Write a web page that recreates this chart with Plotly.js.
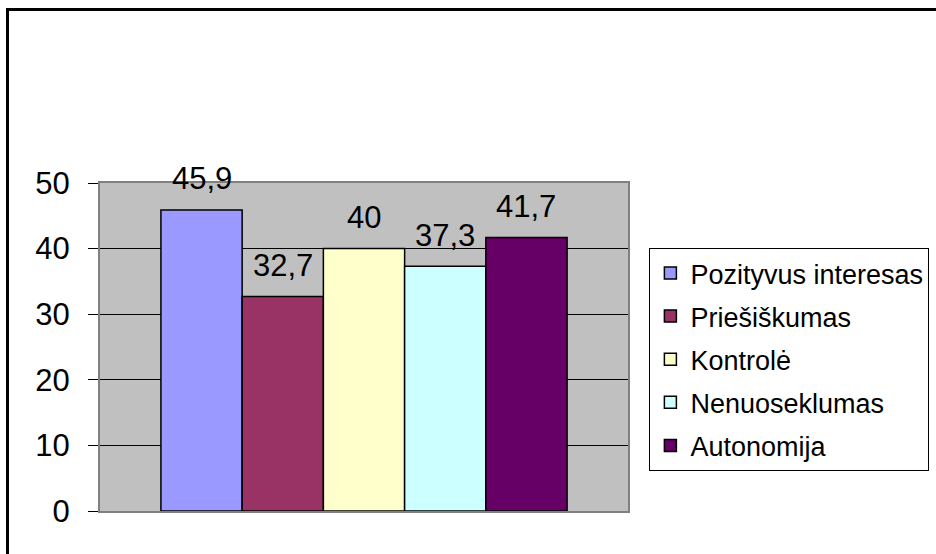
<!DOCTYPE html>
<html>
<head>
<meta charset="utf-8">
<script src="https://cdn.plot.ly/plotly-3.0.1.min.js"></script>
<style>
  html, body { margin: 0; padding: 0; background: #fff; }
  #wrap { position: relative; width: 936px; height: 554px; overflow: hidden; }
  #chart { width: 936px; height: 554px; }
  #frame { position: absolute; left: 6px; top: 8px; width: 940px; height: 560px;
           border-left: 3px solid #000; border-top: 3px solid #000; pointer-events: none; }
</style>
</head>
<body>
<div id="wrap">
  <div id="chart"></div>
  <div id="frame"></div>
</div>
<script>
const seriesNames = ["Pozityvus interesas", "Priešiškumas", "Kontrolė", "Nenuoseklumas", "Autonomija"];
const seriesValues = [45.9, 32.7, 40, 37.3, 41.7];
const seriesColors = ["#9999FF", "#993366", "#FFFFCC", "#CCFFFF", "#660066"];
const yTicks = [0, 10, 20, 30, 40, 50];

const FONT = "Liberation Sans, Arial, sans-serif";

const traces = seriesNames.map((name, i) => ({
  type: "bar",
  name: name,
  legendgroup: "g" + i,
  x: [name],
  y: [seriesValues[i]],
  width: 1,
  marker: { color: seriesColors[i], line: { color: "#000", width: 1.5 } },
  hoverinfo: "skip"
}));

const annotations = seriesNames.map((name, i) => ({
  x: name, y: seriesValues[i], xref: "x", yref: "y",
  text: String(seriesValues[i]).replace(".", ","),
  showarrow: false, yanchor: "middle", xanchor: "center", yshift: 31,
  font: { family: FONT, size: 31, color: "#000" }
}));

const layout = {
  width: 936, height: 554,
  margin: { l: 100, r: 308, t: 183, b: 43, pad: 0, autoexpand: false },
  paper_bgcolor: "#fff",
  plot_bgcolor: "#C0C0C0",
  barmode: "overlay",
  bargap: 0,
  showlegend: true,
  separators: ", ",
  font: { family: FONT, size: 31, color: "#000" },
  xaxis: {
    type: "category",
    categoryorder: "array", categoryarray: seriesNames,
    range: [-1.25, 5.25],
    showticklabels: false, ticks: "", showgrid: false, zeroline: false,
    showline: true, linecolor: "#808080", linewidth: 2, mirror: true,
    fixedrange: true
  },
  yaxis: {
    range: [0, 50],
    tickvals: yTicks,
    ticktext: yTicks.map(String),
    ticks: "outside", ticklen: 10, tickcolor: "#000", tickwidth: 1,
    ticklabelstandoff: 12,
    showgrid: true, gridcolor: "#000", gridwidth: 1,
    zeroline: false,
    showline: true, linecolor: "#808080", linewidth: 2, mirror: true,
    tickfont: { family: FONT, size: 31, color: "#000" },
    fixedrange: true
  },
  legend: {
    x: 1.0405, xanchor: "left",
    y: 0.802, yanchor: "top",
    bgcolor: "#fff", bordercolor: "#000", borderwidth: 1,
    font: { family: FONT, size: 27, color: "#000" },
    traceorder: "grouped",
    tracegroupgap: 5,
    itemwidth: 30
  },
  annotations: annotations
};

Plotly.newPlot("chart", traces, layout, { displayModeBar: false, staticPlot: true });
</script>
</body>
</html>
